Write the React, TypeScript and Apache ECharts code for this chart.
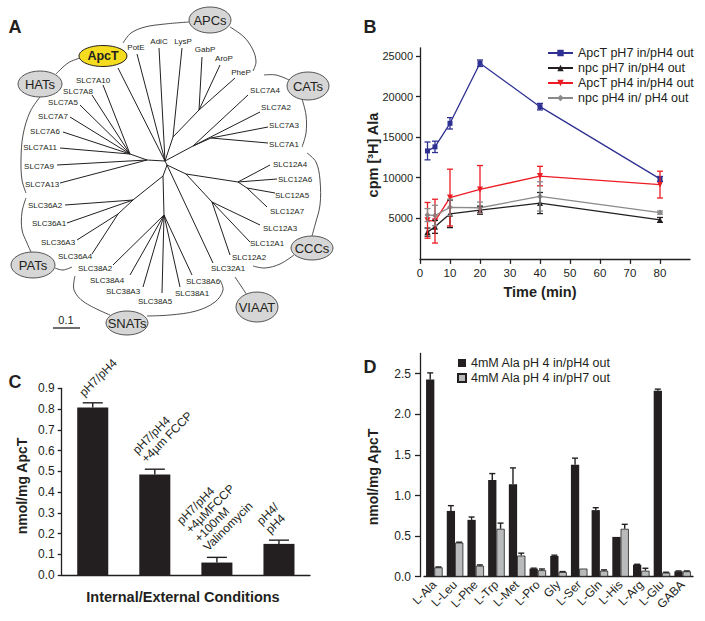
import { useEffect, useRef } from "react";
import * as echarts from "echarts";

const FONT = "'Liberation Sans', Arial, Helvetica, sans-serif";
const INK = "#231f20";
const BLUE = "#2e3192";
const RED = "#ec1c24";
const GREY = "#8a8a8a";
const LIGHT = "#b8babc";

// ---------------- Panel A: tree (names / topology) ----------------
const leafNames = ["ApcT", "PotE", "AdiC", "LysP", "GabP", "AroP", "PheP", "SLC7A4", "SLC7A2", "SLC7A3", "SLC7A1", "SLC12A4", "SLC12A6", "SLC12A5", "SLC12A7", "SLC12A3", "SLC12A1", "SLC12A2", "SLC32A1", "SLC38A6", "SLC38A1", "SLC38A5", "SLC38A3", "SLC38A4", "SLC38A2", "SLC36A4", "SLC36A3", "SLC36A1", "SLC36A2", "SLC7A13", "SLC7A9", "SLC7A11", "SLC7A6", "SLC7A7", "SLC7A5", "SLC7A8", "SLC7A10"];
const leafParents = ["R1", "R1", "R1", "A1", "A2", "A2", "A2", "C1", "C1", "C2", "C2", "K2", "K2", "K3", "K3", "K4", "K4", "K4", "R2", "S1", "S1", "S1", "S1", "S1", "S1", "P2", "P2", "P1", "P1", "H1", "H1", "H2", "H2", "H2", "H2", "H2", "H2"];
const innerNodeNames = ["R1", "R2", "H1", "H2", "A1", "A2", "C1", "C2", "K1", "K2", "K3", "K4", "S0", "S1", "P1", "P2"];
const innerEdges = [["R1", "R2"], ["R1", "H1"], ["H1", "H2"], ["R1", "A1"], ["A1", "A2"], ["R1", "C1"], ["C1", "C2"], ["R2", "K1"], ["K1", "K2"], ["K2", "K3"], ["K1", "K4"], ["R2", "S0"], ["S0", "S1"], ["S0", "P1"], ["P1", "P2"]];
const familyNames = ["APCs", "HATs", "CATs", "PATs", "SNATs", "VIAAT", "CCCs"];
const focusName = "ApcT";
const scaleBarLabel = "0.1";

// tree layout (pixel positions of the diagram)
const innerNodeXY = [[165, 161], [167, 165], [147, 160], [130, 154], [173, 137], [199, 110], [193, 146], [211, 138], [186, 174], [238, 182], [247, 188], [212, 202], [163, 176], [164, 215], [133, 200], [118, 214]];
const leafEndXY = [[118, 68], [137, 54], [159, 48], [182, 48], [202, 57], [220, 65], [235, 78], [248, 95], [260, 112], [268, 127], [268, 143], [270, 165], [277, 179], [275, 193], [267, 207], [260, 225], [250, 242], [230, 255], [213, 263], [192, 275], [180, 287], [162, 293], [143, 287], [130, 275], [113, 265], [92, 254], [77, 240], [67, 223], [65, 205], [60, 183], [57, 165], [60, 148], [63, 132], [70, 117], [80, 105], [92, 95], [103, 85]];
const leafLabelXY = [null, [136, 47], [159, 41], [183, 41], [205, 49], [224, 58], [241, 72], [265, 90], [276, 107], [284, 125], [284, 144], [290, 164], [295, 179], [292, 195], [287, 211], [280, 228], [267, 243], [249, 257], [228, 268], [203, 281], [192, 293], [155, 301], [123, 291], [107, 280], [95, 268], [75, 256], [58, 242], [49, 223], [45, 205], [42, 184], [39, 166], [40, 147], [45, 131], [53, 116], [63, 102], [78, 91], [93, 80]];
const familyEllipse = [[210, 20, 21, 13], [40, 84, 22, 13], [308, 86, 21, 14], [33, 265, 22, 13], [127, 323, 21, 12], [257, 307, 21, 15], [312, 248, 21, 12]];
const focusEllipse = [103, 56, 24, 10.5];
const bracketPaths = [
  [[123, 43], [131, 33], [145, 27], [165, 24], [189, 22]],
  [[230, 27], [244, 37], [253, 50], [256, 62], [253, 71]],
  [[264, 75], [276, 75], [289, 80]],
  [[302, 99], [306, 115], [306, 133], [302, 147]],
  [[80, 58], [68, 63], [56, 74]],
  [[40, 97], [30, 112], [23, 135], [21, 160], [22, 180], [26, 193]],
  [[26, 198], [22, 212], [22, 230], [27, 243], [31, 252]],
  [[55, 268], [63, 270], [72, 267]],
  [[75, 276], [74, 290], [84, 302], [110, 315]],
  [[147, 316], [170, 315], [196, 311], [215, 302], [223, 290], [220, 280]],
  [[307, 153], [316, 162], [320, 180], [320, 205], [315, 225], [312, 236]],
  [[294, 255], [280, 264], [265, 268], [253, 266]],
  [[235, 277], [247, 295]],
];

// ---------------- Panel B ----------------
const timePoints = [2.5, 5, 10, 20, 40, 80];
const seriesBNames = ["ApcT pH7 in/pH4 out", "npc pH7 in/pH4 out", "ApcT pH4 in/pH4 out", "npc pH4 in/ pH4 out"];
const apctPH7 = [13300, 13800, 16700, 24100, 18750, 9850];
const apctPH7Err = [1100, 700, 700, 400, 400, 300];
const npcPH7 = [3300, 3950, 5550, 6000, 6880, 4800];
const npcPH7Err = [500, 800, 1700, 500, 1300, 300];
const apctPH4 = [4750, 4650, 7550, 8550, 10200, 9150];
const apctPH4Err = [2200, 2700, 3500, 2950, 1200, 1650];
const npcPH4 = [5400, 5350, 6350, 6300, 7700, 5700];
const npcPH4Err = [800, 1250, 1000, 700, 1800, 200];
const bYTicks = [5000, 10000, 15000, 20000, 25000];
const bXTicks = [0, 10, 20, 30, 40, 50, 60, 70, 80];

// ---------------- Panel C ----------------
const conditionLabels = ["pH7/pH4", "pH7/pH4\n+4µm FCCP", "pH7/pH4\n+4µMFCCP\n+100nM\nValinomycin", "pH4/\npH4"];
const conditionValues = [0.808, 0.485, 0.06, 0.15];
const conditionErr = [0.022, 0.025, 0.025, 0.018];
const cYTicks = [0, 0.1, 0.2, 0.3, 0.4, 0.5, 0.6, 0.7, 0.8, 0.9];

// ---------------- Panel D ----------------
const aminoAcids = ["L-Ala", "L-Leu", "L-Phe", "L-Trp", "L-Met", "L-Pro", "Gly", "L-Ser", "L-Gln", "L-His", "L-Arg", "L-Glu", "GABA"];
const dNames = ["4mM Ala pH 4 in/pH4 out", "4mM Ala pH 4 in/pH7 out"];
const pH4out = [2.43, 0.81, 0.70, 1.19, 1.14, 0.10, 0.255, 1.38, 0.82, 0.49, 0.148, 2.29, 0.066];
const pH4outErr = [0.08, 0.065, 0.035, 0.08, 0.2, 0.005, 0.01, 0.08, 0.03, 0, 0.005, 0.02, 0.005];
const pH7out = [0.115, 0.42, 0.135, 0.59, 0.26, 0.08, 0.058, 0.10, 0.074, 0.59, 0.074, 0.05, 0.066];
const pH7outErr = [0.005, 0.005, 0.01, 0.07, 0.03, 0.015, 0.005, 0, 0.01, 0.055, 0.03, 0.005, 0.005];
const dYTicks = [0, 0.5, 1, 1.5, 2, 2.5];

function errorBars(color: string, capHalf: number, upOnly: boolean, shiftFrac: number, lw: number) {
  return (_params: any, api: any) => {
    const x = api.value(0);
    const y = api.value(1);
    const e = api.value(2);
    if (!e) return { type: "group", children: [] };
    const shift = shiftFrac ? api.size([1, 0])[0] * shiftFrac : 0;
    const top = api.coord([x, y + e]);
    const base = api.coord([x, upOnly ? y : y - e]);
    const cx = top[0] + shift;
    const style = { stroke: color, lineWidth: lw };
    const children: any[] = [
      { type: "line", shape: { x1: cx, y1: top[1], x2: cx, y2: base[1] }, style },
      { type: "line", shape: { x1: cx - capHalf, y1: top[1], x2: cx + capHalf, y2: top[1] }, style },
    ];
    if (!upOnly) children.push({ type: "line", shape: { x1: cx - capHalf, y1: base[1], x2: cx + capHalf, y2: base[1] }, style });
    return { type: "group", children };
  };
}

function txt(text: string, x: number, y: number, size: number, bold = false, rotation = 0, extra: any = {}) {
  return {
    type: "text",
    x,
    y,
    rotation,
    silent: true,
    style: {
      text,
      fill: INK,
      fontFamily: FONT,
      fontSize: size,
      fontWeight: bold ? "bold" : "normal",
      align: "center",
      verticalAlign: "middle",
      textAlign: "center",
      textVerticalAlign: "middle",
      ...extra,
    },
  };
}

function buildTree() {
  const els: any[] = [];
  const nodeXY = (n: string) => innerNodeXY[innerNodeNames.indexOf(n)];
  bracketPaths.forEach((pts) =>
    els.push({ type: "polyline", silent: true, shape: { points: pts, smooth: 0.35 }, style: { stroke: INK, lineWidth: 0.8, fill: "none" } })
  );
  innerEdges.forEach(([a, b]) => {
    const p = nodeXY(a);
    const q = nodeXY(b);
    els.push({ type: "line", silent: true, shape: { x1: p[0], y1: p[1], x2: q[0], y2: q[1] }, style: { stroke: INK, lineWidth: 1 } });
  });
  leafNames.forEach((name, i) => {
    const e = leafEndXY[i];
    const p = nodeXY(leafParents[i]);
    els.push({ type: "line", silent: true, shape: { x1: e[0], y1: e[1], x2: p[0], y2: p[1] }, style: { stroke: INK, lineWidth: 1 } });
    const l = leafLabelXY[i];
    if (l) els.push(txt(name, l[0], l[1], 8));
  });
  familyNames.forEach((name, i) => {
    const [cx, cy, rx, ry] = familyEllipse[i];
    els.push({ type: "ellipse", silent: true, shape: { cx, cy, rx, ry }, style: { fill: "#d6d6d6", stroke: "#444", lineWidth: 0.9 } });
    els.push(txt(name, cx, cy, 13));
  });
  const [fx, fy, frx, fry] = focusEllipse;
  els.push({ type: "ellipse", silent: true, shape: { cx: fx, cy: fy, rx: frx, ry: fry }, style: { fill: "#f5dc1e", stroke: INK, lineWidth: 1 } });
  els.push(txt(focusName, fx, fy, 12.5, true));
  els.push({ type: "line", silent: true, shape: { x1: 53, y1: 328, x2: 80, y2: 328 }, style: { stroke: INK, lineWidth: 1.3 } });
  els.push(txt(scaleBarLabel, 66, 320, 11));
  return els;
}

export default function App() {
  const ref = useRef<HTMLDivElement>(null);
  useEffect(() => {
    if (!ref.current) return;
    const chart = echarts.init(ref.current, null, { renderer: "svg" });
    const axisLine = { lineStyle: { color: INK, width: 1.3 } };
    const axisTick = { lineStyle: { color: INK, width: 1.3 } };
    const lbl = (size: number) => ({ color: INK, fontSize: size, fontFamily: FONT });

    const bLines = [
      { name: seriesBNames[0], data: apctPH7, err: apctPH7Err, color: BLUE, symbol: "rect", size: 5, rot: 0 },
      { name: seriesBNames[1], data: npcPH7, err: npcPH7Err, color: INK, symbol: "triangle", size: 6, rot: 0 },
      { name: seriesBNames[2], data: apctPH4, err: apctPH4Err, color: RED, symbol: "triangle", size: 6, rot: 180 },
      { name: seriesBNames[3], data: npcPH4, err: npcPH4Err, color: GREY, symbol: "diamond", size: 6, rot: 0 },
    ];

    const series: any[] = [];
    bLines.forEach((s) => {
      series.push({
        type: "line",
        name: s.name,
        xAxisIndex: 0,
        yAxisIndex: 0,
        data: timePoints.map((t, i) => [t, s.data[i]]),
        symbol: s.symbol,
        symbolSize: s.size,
        symbolRotate: s.rot,
        showSymbol: true,
        color: s.color,
        lineStyle: { color: s.color, width: 1.3 },
        itemStyle: { color: s.color },
        z: 3,
      });
      series.push({
        type: "custom",
        name: s.name + " err",
        xAxisIndex: 0,
        yAxisIndex: 0,
        encode: { x: 0, y: 1 },
        data: timePoints.map((t, i) => [t, s.data[i], s.err[i]]),
        renderItem: errorBars(s.color, 3, false, 0, 1.3),
        z: 4,
      });
    });

    // Panel C
    series.push({
      type: "bar",
      name: "conditions",
      xAxisIndex: 1,
      yAxisIndex: 1,
      data: conditionValues,
      barWidth: "50%",
      itemStyle: { color: INK },
    });
    series.push({
      type: "custom",
      name: "conditions err",
      xAxisIndex: 1,
      yAxisIndex: 1,
      encode: { x: 0, y: 1 },
      data: conditionValues.map((v, i) => [i, v, conditionErr[i]]),
      renderItem: errorBars(INK, 10, true, 0, 1.4),
      z: 4,
    });

    // Panel D
    series.push({
      type: "bar",
      name: dNames[0],
      xAxisIndex: 2,
      yAxisIndex: 2,
      data: pH4out,
      barGap: "0%",
      barCategoryGap: "20%",
      itemStyle: { color: INK },
    });
    series.push({
      type: "bar",
      name: dNames[1],
      xAxisIndex: 2,
      yAxisIndex: 2,
      data: pH7out,
      barGap: "0%",
      barCategoryGap: "20%",
      itemStyle: { color: LIGHT, borderColor: INK, borderWidth: 0.8 },
    });
    series.push({
      type: "custom",
      name: "d err 1",
      xAxisIndex: 2,
      yAxisIndex: 2,
      encode: { x: 0, y: 1 },
      data: pH4out.map((v, i) => [i, v, pH4outErr[i]]),
      renderItem: errorBars(INK, 3, true, -0.2, 1.4),
      z: 4,
    });
    series.push({
      type: "custom",
      name: "d err 2",
      xAxisIndex: 2,
      yAxisIndex: 2,
      encode: { x: 0, y: 1 },
      data: pH7out.map((v, i) => [i, v, pH7outErr[i]]),
      renderItem: errorBars(INK, 3, true, 0.2, 1.4),
      z: 4,
    });

    const baseGraphic: any[] = [
      ...buildTree(),
      txt("A", 15, 27, 18, true),
      txt("B", 370, 27, 18, true),
      txt("C", 15, 382, 18, true),
      txt("D", 370, 367, 18, true),
      txt("Time (min)", 540, 292, 14.5, true),
      txt("cpm [³H] Ala", 373, 155, 14.5, true, Math.PI / 2),
      txt("nmol/mg ApcT", 22, 486, 14, true, Math.PI / 2),
      txt("Internal/External Conditions", 183, 597, 14.5, true),
      txt("nmol/mg ApcT", 373, 477, 14, true, Math.PI / 2),
    ];

    const option: any = {
      animation: false,
      backgroundColor: "#ffffff",
      textStyle: { fontFamily: FONT, color: INK },
      grid: [
        { left: 420, top: 47.8, width: 270, height: 211.1 },
        { left: 61.7, top: 388.3, width: 248.3, height: 186.7 },
        { left: 424, top: 353.4, width: 269, height: 223.3 },
      ],
      xAxis: [
        {
          gridIndex: 0,
          type: "value",
          min: 0,
          max: 90,
          interval: 10,
          splitLine: { show: false },
          axisLine,
          axisTick: { ...axisTick, length: 5, customValues: bXTicks },
          axisLabel: { ...lbl(11.5), margin: 8, customValues: bXTicks },
        },
        {
          gridIndex: 1,
          type: "category",
          data: conditionLabels,
          axisLine,
          axisTick: { show: false },
          axisLabel: { show: false },
        },
        {
          gridIndex: 2,
          type: "category",
          data: aminoAcids,
          axisLine,
          axisTick: { ...axisTick, length: 5 },
          axisLabel: { ...lbl(12), rotate: 45, interval: 0, margin: 6 },
        },
      ],
      yAxis: [
        {
          gridIndex: 0,
          type: "value",
          min: 0,
          max: 26000,
          interval: 5000,
          splitLine: { show: false },
          axisLine: { ...axisLine, show: true },
          axisTick: { ...axisTick, show: true, length: 4, customValues: bYTicks },
          axisLabel: { ...lbl(11), margin: 7, customValues: bYTicks, formatter: (v: number) => String(v) },
        },
        {
          gridIndex: 1,
          type: "value",
          min: 0,
          max: 0.9,
          interval: 0.1,
          splitLine: { show: false },
          axisLine: { ...axisLine, show: true },
          axisTick: { ...axisTick, show: true, length: 4, customValues: cYTicks },
          axisLabel: { ...lbl(12), margin: 7, customValues: cYTicks, formatter: (v: number) => v.toFixed(1) },
        },
        {
          gridIndex: 2,
          type: "value",
          min: 0,
          max: 2.75,
          interval: 0.5,
          offset: 4,
          splitLine: { show: false },
          axisLine: { ...axisLine, show: true },
          axisTick: { ...axisTick, show: true, length: 5, customValues: dYTicks },
          axisLabel: { ...lbl(12), margin: 9, customValues: dYTicks, formatter: (v: number) => v.toFixed(1) },
        },
      ],
      legend: [
        {
          left: 542,
          top: 41,
          orient: "vertical",
          itemWidth: 25,
          itemHeight: 8,
          itemGap: 1,
          data: seriesBNames,
          textStyle: { ...lbl(12.5), lineHeight: 14 },
        },
        {
          left: 452,
          top: 351,
          orient: "vertical",
          icon: "rect",
          itemWidth: 8,
          itemHeight: 8,
          itemGap: 1,
          data: dNames,
          textStyle: { ...lbl(12.5), lineHeight: 14 },
        },
      ],
      graphic: baseGraphic,
      series,
    };
    chart.setOption(option);

    // rotated condition labels placed above each bar's error bar (positions from the chart's own scale)
    const condLabelEls = conditionValues.map((v, i) => {
      const p = chart.convertToPixel({ xAxisIndex: 1, yAxisIndex: 1 } as any, [i, v + conditionErr[i]]) as number[];
      return {
        type: "text",
        silent: true,
        x: p[0] - 7,
        y: p[1] - 4,
        rotation: Math.PI / 4,
        style: {
          text: conditionLabels[i],
          fill: INK,
          fontFamily: FONT,
          fontSize: 12,
          lineHeight: 12.5,
          align: "left",
          verticalAlign: "bottom",
          textAlign: "left",
          textVerticalAlign: "bottom",
        },
      };
    });
    chart.setOption({ graphic: [...baseGraphic, ...condLabelEls] });
    return () => chart.dispose();
  }, []);
  return (
    <div
      ref={ref}
      style={{ position: "absolute", left: 0, top: 0, width: 705, height: 621, background: "#fff" }}
    />
  );
}
